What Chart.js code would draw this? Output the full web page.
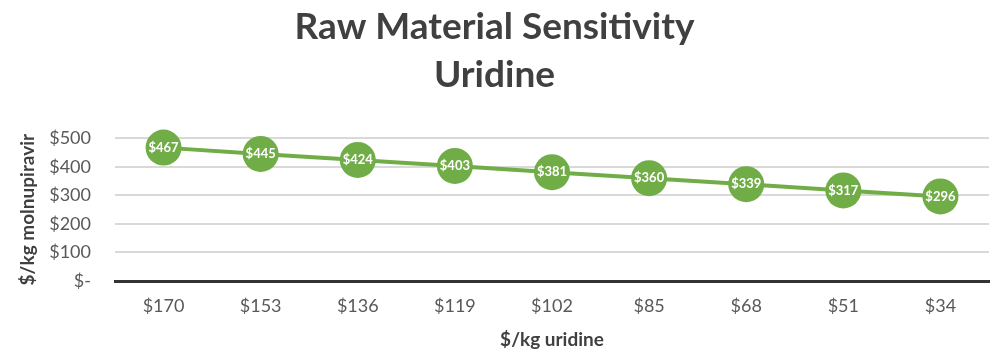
<!DOCTYPE html>
<html>
<head>
<meta charset="utf-8">
<script src="https://cdn.jsdelivr.net/npm/chart.js@4/dist/chart.umd.min.js"></script>
<style>
html,body{margin:0;padding:0;background:#fff;}
#wrap{width:1000px;height:358px;position:relative;}
</style>
</head>
<body>
<div id="wrap"><canvas id="c" width="1000" height="358"></canvas></div>
<script>
const categories = ["$170","$153","$136","$119","$102","$85","$68","$51","$34"];
const values = [467,445,424,403,381,360,339,317,296];
const titleLines = ["Raw Material Sensitivity","Uridine"];
const xTitle = "$/kg uridine";
const yTitle = "$/kg molnupiravir";

const labelPlugin = {
  id:'pointLabels',
  afterDatasetsDraw(chart){
    const ctx = chart.ctx;
    const meta = chart.getDatasetMeta(0);
    ctx.save();
    ctx.fillStyle = '#ffffff';
    ctx.font = 'bold 13px Lato';
    ctx.textAlign = 'center';
    ctx.textBaseline = 'middle';
    meta.data.forEach((pt,i)=>{
      ctx.fillText('$' + values[i], pt.x, pt.y);
    });
    ctx.restore();
  }
};

new Chart(document.getElementById('c'), {
  type:'line',
  data:{
    labels:categories,
    datasets:[{
      data:values,
      borderColor:'#70AD47',
      backgroundColor:'#70AD47',
      borderWidth:4,
      pointRadius:18,
      pointBackgroundColor:'#70AD47',
      pointBorderColor:'#70AD47',
      pointBorderWidth:0,
      tension:0,
      fill:false,
      clip:false
    }]
  },
  options:{
    responsive:false,
    animation:false,
    layout:{autoPadding:false,padding:{left:0,right:11,top:0,bottom:0}},
    plugins:{
      legend:{display:false},
      tooltip:{enabled:false},
      title:{
        display:true,
        text:titleLines,
        color:'#404040',
        font:{family:'Lato',size:37,weight:'bold',lineHeight:1.3},
        padding:{top:3,bottom:39}
      }
    },
    scales:{
      x:{
        offset:true,
        grid:{display:false,drawTicks:false,offset:true},
        border:{display:true,color:'#333333',width:3},
        ticks:{color:'#595959',font:{family:'Lato',size:18},padding:14},
        title:{display:true,text:xTitle,color:'#404040',font:{family:'Lato',size:19,weight:'bold'},padding:{top:4,bottom:7}},
        afterFit(scale){ scale.height = 77; scale.paddingLeft = 0; scale.paddingRight = 0; }
      },
      y:{
        min:0,max:500,
        grid:{color:'#d9d9d9',lineWidth:2,drawTicks:false},
        border:{display:false},
        ticks:{stepSize:100,color:'#595959',font:{family:'Lato',size:18},padding:24,
          callback:(v)=> v===0 ? '$-' : '$'+v},
        title:{display:true,text:yTitle,color:'#404040',font:{family:'Lato',size:19,weight:'bold'},padding:{top:16,bottom:4}},
        afterFit(scale){ scale.width = 115; scale.paddingTop = 0; scale.paddingBottom = 0; }
      }
    }
  },
  plugins:[labelPlugin]
});
</script>
</body>
</html>
